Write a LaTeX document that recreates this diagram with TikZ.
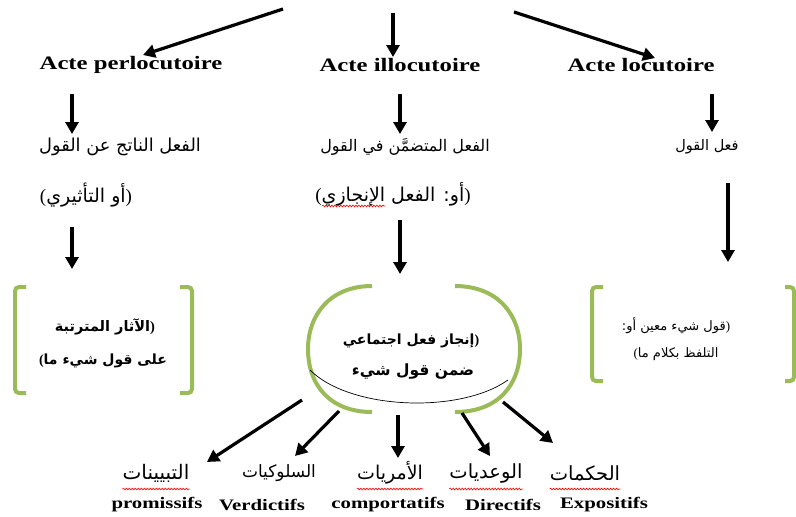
\documentclass[tikz,border=0pt]{standalone}
\usepackage{fontspec}
\setmainfont{Liberation Serif}
\newfontfamily\arabicfont[Script=Arabic]{DejaVu Sans}
\TeXXeTstate=1
\usetikzlibrary{arrows.meta,decorations.pathmorphing}
\definecolor{grn}{HTML}{9BBB59}
\definecolor{ublue}{HTML}{4472C4}
\newcommand\frt[1]{\scalebox{1.3}[1]{\bfseries #1}}
\newcommand\ar[1]{{\arabicfont\beginR #1\endR}}
\begin{document}
\begin{tikzpicture}[x=1pt,y=-1pt,
  arr/.style={line width=3.2pt,-{Triangle[length=12pt,width=13pt]}},
  title/.style={inner sep=0pt,font=\fontsize{19}{22}\selectfont},
  frb/.style={inner sep=0pt,font=\fontsize{16}{19}\selectfont},
  artxt/.style={inner sep=0pt,font=\fontsize{#1}{#1}\selectfont},
  boxtxt/.style={inner sep=0pt,font=\fontsize{#1}{#1}\selectfont\bfseries},
  bracket/.style={draw=grn,line width=4pt,rounded corners=4pt},
  greenarc/.style={draw=grn,line width=4pt},
  wavy/.style={draw=red,line width=0.6pt,decorate,decoration={snake,amplitude=0.9pt,segment length=3pt}},
  dbl/.style={draw=ublue,line width=0.45pt,double=white,double distance=1.2pt}
]
\fill[white] (0,0) rectangle (796,517);
\useasboundingbox (0,0) rectangle (796,517);

% titles
\node[title] (perl) at (131,65) {\frt{Acte perlocutoire}};
\node[title] (illo) at (400,65) {\frt{Acte illocutoire}};
\node[title] (locu) at (641,65) {\frt{Acte locutoire}};

% top arrows
\coordinate (s1) at (283,9);   \coordinate (e1) at (143,55);
\coordinate (s2) at (393,13);  \coordinate (e2) at (393,57);
\coordinate (s3) at (514,12);  \coordinate (e3) at (655,58);
\draw[arr] (s1) -- (e1);
\draw[arr] (s2) -- (e2);
\draw[arr] (s3) -- (e3);

% row 2
\node[artxt=17.8] (fL) at (120,147) {\ar{الفعل الناتج عن القول}};
\node[artxt=16] (fM) at (405,147) {\ar{الفعل المتضمَّن في القول}};
\node[artxt=14.5] (fR) at (707,147) {\ar{فعل القول}};

\coordinate (a1s) at (72,94);  \coordinate (a1e) at (72,134);
\coordinate (a2s) at (400,94); \coordinate (a2e) at (400,134);
\coordinate (a3s) at (712,94); \coordinate (a3e) at (712,132);
\draw[arr] (a1s) -- (a1e);
\draw[arr] (a2s) -- (a2e);
\draw[arr] (a3s) -- (a3e);

% row 3
\node[artxt=19] (pL) at (86,195) {(\ar{أو التأثيري})};
\node[artxt=19] (pM) at (393,194) {(\ar{أو\kern0pt: الفعل الإنجازي})};
\coordinate (u1) at (292,206); \coordinate (u2) at (322,206); \coordinate (u3) at (385,206);
\draw[dbl] (u1) -- (u2);
\draw[wavy] (u2) -- (u3);

\coordinate (a4s) at (72,227);  \coordinate (a4e) at (72,269);
\coordinate (a5s) at (400,220); \coordinate (a5e) at (400,274);
\coordinate (a6s) at (728,183); \coordinate (a6e) at (728,262);
\draw[arr] (a4s) -- (a4e);
\draw[arr] (a5s) -- (a5e);
\draw[arr] (a6s) -- (a6e);

% left bracket box
\draw[bracket] (26,287) -- (15,287) -- (15,393) -- (26,393);
\draw[bracket] (180,287) -- (192,287) -- (192,393) -- (180,393);
\node[boxtxt=14.5] (bL1) at (105,327) {\ar{الآثار المترتبة})};
\node[boxtxt=14] (bL2) at (103,361) {(\ar{على قول شيء ما}};

% right bracket box
\draw[bracket] (603,287) -- (592,287) -- (592,381) -- (603,381);
\draw[bracket] (785,287) -- (794,287) -- (794,381) -- (785,381);
\node[artxt=13] (bR1) at (676,326) {\ar{قول شيء معين أو\kern0pt:})};
\node[artxt=13] (bR2) at (676,354) {(\ar{التلفظ بكلام ما}};

% central shape
\draw[greenarc] (372,286) .. controls (330,286) and (308,315) .. (308,349)
   .. controls (308,385) and (330,412) .. (372,412);
\draw[greenarc] (455,286) .. controls (498,286) and (520,315) .. (520,349)
   .. controls (520,385) and (498,412) .. (455,412);
\draw[line width=0.7pt] (310,370) .. controls (350,410) and (460,414) .. (508,380);
\node[boxtxt=14] (cM1) at (411,341) {\ar{إنجاز فعل اجتماعي})};
\node[boxtxt=15.5] (cM2) at (413,371) {\ar{ضمن قول شيء}};

% bottom labels
\node[artxt=20] (t1) at (156,473) {\ar{التبيينات}};
\node[artxt=17] (t2) at (279,473) {\ar{السلوكيات}};
\node[artxt=19] (t3) at (390,473) {\ar{الأمريات}};
\node[artxt=19.5] (t4) at (486,473) {\ar{الوعديات}};
\node[artxt=19.5] (t5) at (585,473) {\ar{الحكمات}};
\node[frb] (f1) at (157,505) {\frt{promissifs}};
\node[frb] (f2) at (262,505) {\frt{Verdictifs}};
\node[frb] (f3) at (388,505) {\frt{comportatifs}};
\node[frb] (f4) at (503,505) {\frt{Directifs}};
\node[frb] (f5) at (604,505) {\frt{Expositifs}};

\coordinate (wl) at (0,489);
\coordinate (bl) at (0,514);
\foreach \n in {t1,t3,t4,t5}{\draw[wavy] (\n.west |- wl) -- (\n.east |- wl);}
\draw[dbl] (f1.west |- bl) -- (f1.east |- bl);

% bottom arrows
\coordinate (b1s) at (302,400); \coordinate (b1e) at (207,462);
\coordinate (b2s) at (339,411); \coordinate (b2e) at (295,456);
\coordinate (b3s) at (398,415); \coordinate (b3e) at (398,458);
\coordinate (b4s) at (462,413); \coordinate (b4e) at (490,456);
\coordinate (b5s) at (503,402); \coordinate (b5e) at (553,443);
\foreach \i in {1,...,5}{\draw[arr] (b\i s) -- (b\i e);}
\end{tikzpicture}
\end{document}
